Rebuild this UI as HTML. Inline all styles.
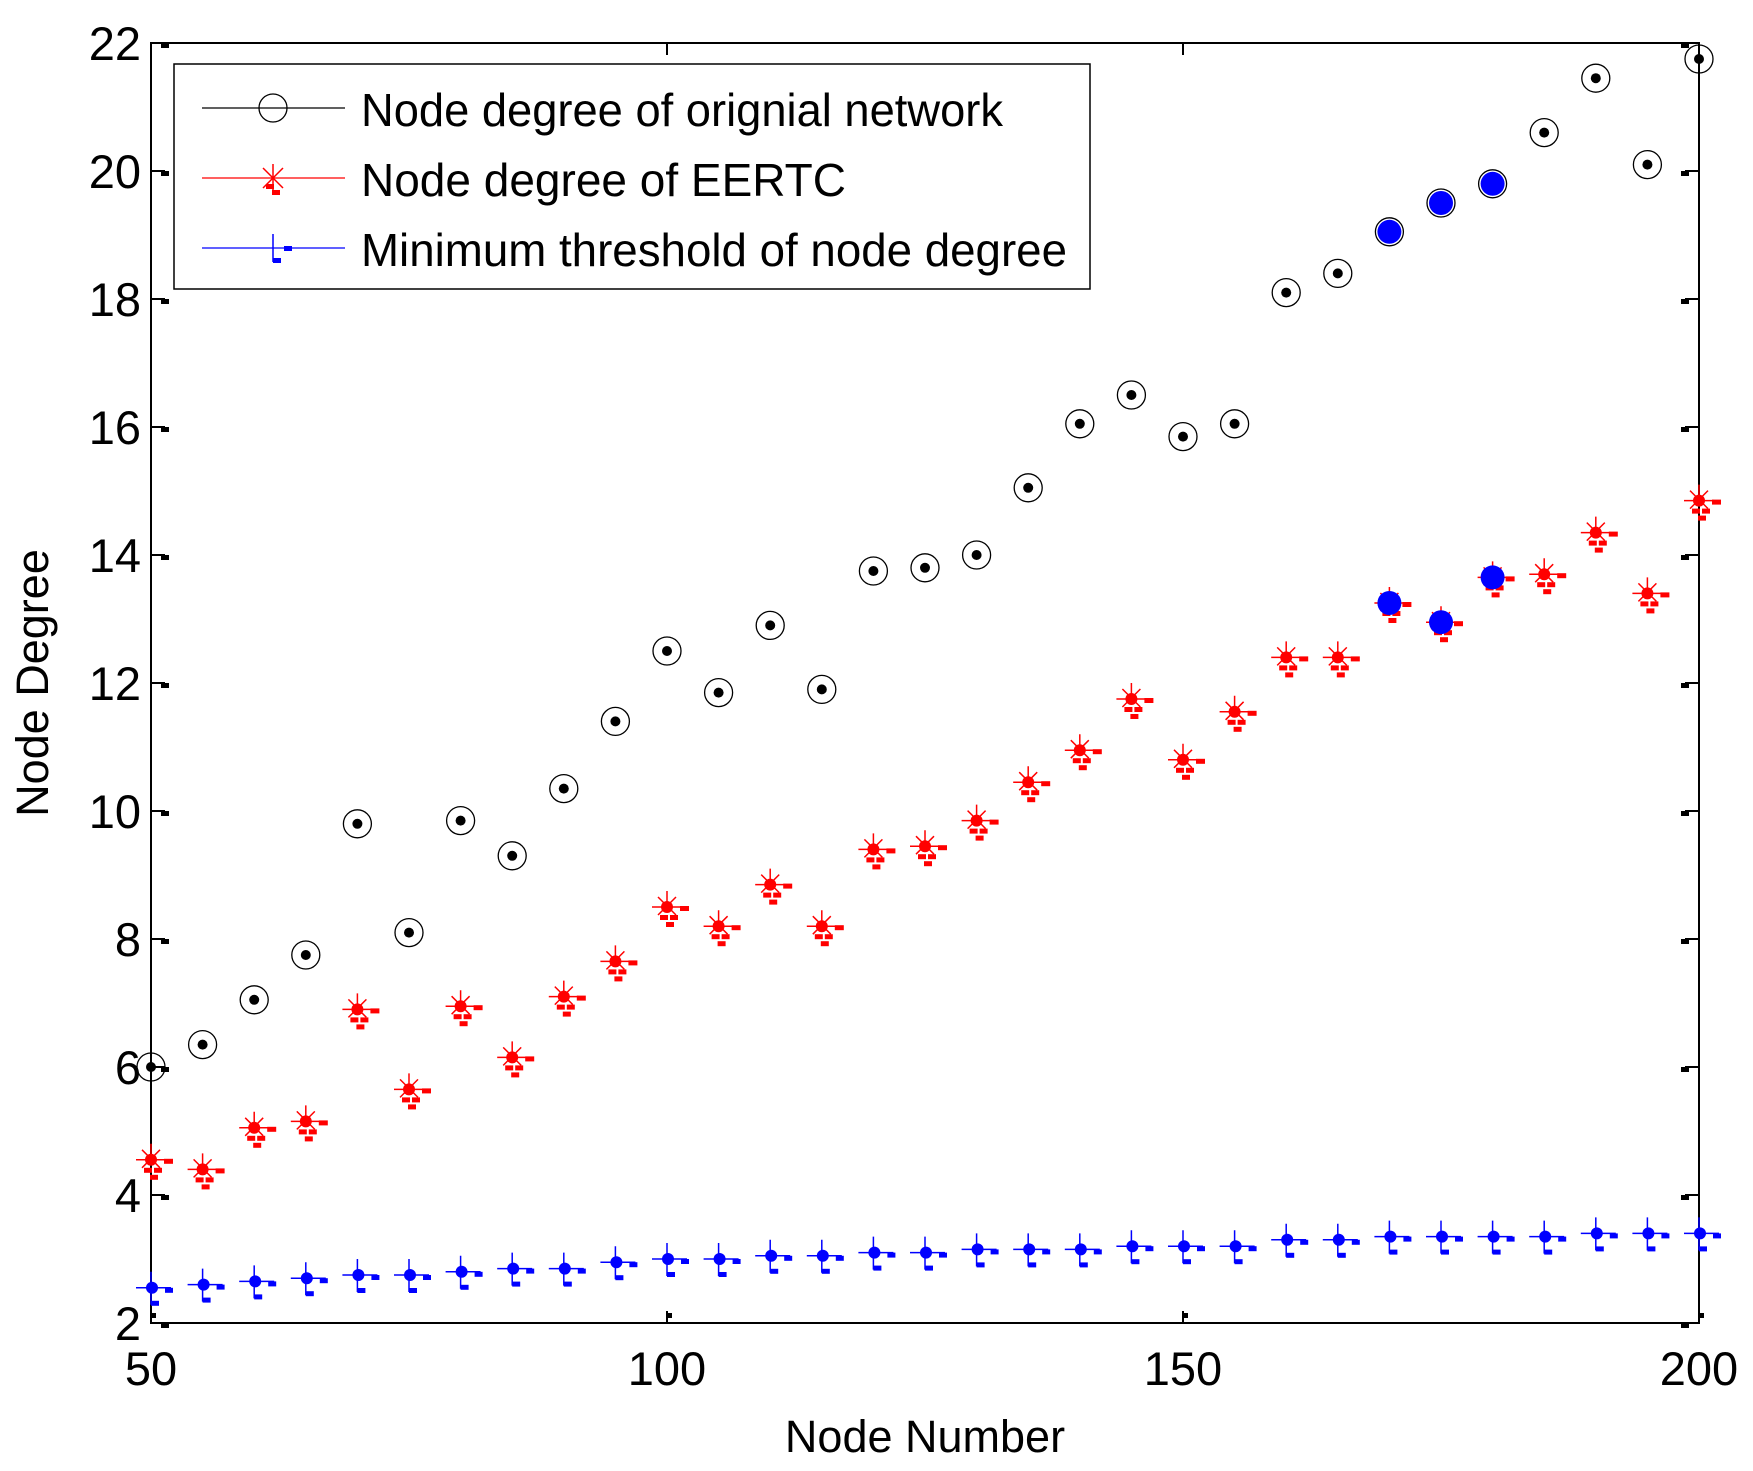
<!DOCTYPE html>
<html><head><meta charset="utf-8"><style>
body{margin:0;background:#fff}
svg{display:block;font-family:"Liberation Sans",Arial,sans-serif}
</style></head><body>
<svg id="chart" width="1753" height="1471" viewBox="0 0 1753 1471">
<rect x="0" y="0" width="1753" height="1471" fill="#fff"/>
<g id="axes"></g>
<g id="marks"></g>
<g id="legend">
<rect x="174" y="64" width="916" height="225" fill="#fff" stroke="#000" stroke-width="1.5"/>
<g>
<line x1="202" y1="108" x2="345" y2="108" stroke="#000" stroke-width="1.2"/>
<circle cx="273" cy="108" r="14" fill="none" stroke="#000" stroke-width="1.3"/>
<text x="361" y="126" font-size="46" textLength="642" lengthAdjust="spacingAndGlyphs">Node degree of orignial network</text></g>
<g>
<line x1="202" y1="178" x2="345" y2="178" stroke="#f00" stroke-width="1.2"/>
<g stroke="#f00" stroke-width="1.5"><line x1="273" y1="164" x2="273" y2="192"/><line x1="263" y1="168" x2="283" y2="188"/><line x1="283" y1="168" x2="263" y2="188"/></g>
<rect x="266" y="184" width="8" height="5" fill="#f00"/><rect x="272" y="190" width="8" height="5" fill="#f00"/>
<text x="361" y="196" font-size="46">Node degree of EERTC</text></g>
<g>
<line x1="202" y1="248" x2="345" y2="248" stroke="#00f" stroke-width="1.2"/>
<line x1="273" y1="234" x2="273" y2="262" stroke="#00f" stroke-width="1.5"/>
<rect x="273" y="258" width="8" height="5" fill="#00f"/><rect x="284" y="246" width="8" height="5" fill="#00f"/>
<text x="361" y="266" font-size="46" textLength="706" lengthAdjust="spacingAndGlyphs">Minimum threshold of node degree</text></g>
</g>
</svg>
<script>
const nodeNumbers=[50,55,60,65,70,75,80,85,90,95,100,105,110,115,120,125,130,135,140,145,150,155,160,165,170,175,180,185,190,195,200];
const originalDegree=[6.0,6.35,7.05,7.75,9.8,8.1,9.85,9.3,10.35,11.4,12.5,11.85,12.9,11.9,13.75,13.8,14.0,15.05,16.05,16.5,15.85,16.05,18.1,18.4,19.05,19.5,19.8,20.6,21.45,20.1,21.75];
const eertcDegree=[4.55,4.4,5.05,5.15,6.9,5.65,6.95,6.15,7.1,7.65,8.5,8.2,8.85,8.2,9.4,9.45,9.85,10.45,10.95,11.75,10.8,11.55,12.4,12.4,13.25,12.95,13.65,13.7,14.35,13.4,14.85];
const thresholdDegree=[2.55,2.6,2.65,2.7,2.75,2.75,2.8,2.85,2.85,2.95,3.0,3.0,3.05,3.05,3.1,3.1,3.15,3.15,3.15,3.2,3.2,3.2,3.3,3.3,3.35,3.35,3.35,3.35,3.4,3.4,3.4];
const highlightNodes=[170,175,180];
const xTicks=[50,100,150,200];
const yTicks=[2,4,6,8,10,12,14,16,18,20,22];
const L=151,R=1699,T=43,B=1323;
const xs=v=>L+(v-50)/150*(R-L);
const ys=v=>B-(v-2)/20*(B-T);
const NS="http://www.w3.org/2000/svg";
function mk(tag,attrs,parent,txt){const e=document.createElementNS(NS,tag);for(const k in attrs)e.setAttribute(k,attrs[k]);if(txt!==undefined)e.textContent=txt;parent.appendChild(e);return e;}
const axes=document.getElementById('axes'),marks=document.getElementById('marks');
const frame=mk('rect',{x:L,y:T,width:R-L,height:B-T,fill:'none',stroke:'#000','stroke-width':2},axes);


xTicks.forEach(t=>{const x=xs(t);
 mk('rect',{x:x-1,y:B-12,width:2,height:12,fill:'#000'},axes);
 mk('rect',{x:x-1,y:T,width:2,height:12,fill:'#000'},axes);
 mk('rect',{x:x,y:B-10,width:5,height:5,fill:'#000'},axes);
 const tl=mk('text',{x:x,y:B+62,'font-size':47,'text-anchor':'middle'},axes,String(t));
 
 });
yTicks.forEach(t=>{const y=ys(t);
 mk('rect',{x:L,y:y-1,width:14,height:2,fill:'#000'},axes);
 mk('rect',{x:L+10,y:y,width:8,height:5,fill:'#000'},axes);
 mk('rect',{x:R-14,y:y-1,width:14,height:2,fill:'#000'},axes);
 mk('rect',{x:R-18,y:y,width:8,height:5,fill:'#000'},axes);
 const tl=mk('text',{x:L-10,y:y+17,'font-size':47,'text-anchor':'end'},axes,String(t));
 
 });
const xl=mk('text',{x:(L+R)/2,y:1452,'font-size':45,'text-anchor':'middle'},axes,'Node Number');


const yl=mk('text',{x:0,y:0,'font-size':45,'text-anchor':'middle',transform:`translate(48,${(T+B)/2}) rotate(-90)`},axes,'Node Degree');


nodeNumbers.forEach((n,i)=>{
 const x=xs(n);
 let y=ys(originalDegree[i]);
 const g1=mk('g',{},marks);
 
 
 mk('circle',{cx:x,cy:y,r:14,fill:'none',stroke:'#000','stroke-width':1.3},g1);
 mk('circle',{cx:x,cy:y,r:5,fill:'#000'},g1);
 y=ys(eertcDegree[i]);
 const g2=mk('g',{},marks);
 
 
 mk('path',{d:`M${x} ${y-16}V${y+2}M${x-15} ${y}H${x+15}M${x-9} ${y-10}L${x+9} ${y+8}M${x+9} ${y-10}L${x-9} ${y+8}`,stroke:'#f00','stroke-width':1.5,fill:'none'},g2);
 mk('circle',{cx:x,cy:y,r:6,fill:'#f00'},g2);
 mk('rect',{x:x+13,y:y-1,width:9,height:5,fill:'#f00'},g2);
 mk('rect',{x:x-7,y:y+8,width:8,height:5,fill:'#f00'},g2);
 mk('rect',{x:x+3,y:y+8,width:8,height:5,fill:'#f00'},g2);
 mk('rect',{x:x-1,y:y+15,width:8,height:5,fill:'#f00'},g2);
 y=ys(thresholdDegree[i]);
 const g3=mk('g',{},marks);
 
 
 mk('path',{d:`M${x} ${y-16}V${y+17}M${x-15} ${y}H${x+20}`,stroke:'#00f','stroke-width':1.5,fill:'none'},g3);
 mk('circle',{cx:x+1,cy:y,r:6,fill:'#00f'},g3);
 mk('rect',{x:x+14,y:y,width:8,height:5,fill:'#00f'},g3);
 mk('rect',{x:x,y:y+13,width:8,height:5,fill:'#00f'},g3);
 if(highlightNodes.includes(n)){
  [originalDegree[i],eertcDegree[i]].forEach(v=>{
   const h=mk('circle',{cx:x,cy:ys(v),r:12,fill:'#00f'},marks);
   
   });
 }
});
</script>
</body></html>
